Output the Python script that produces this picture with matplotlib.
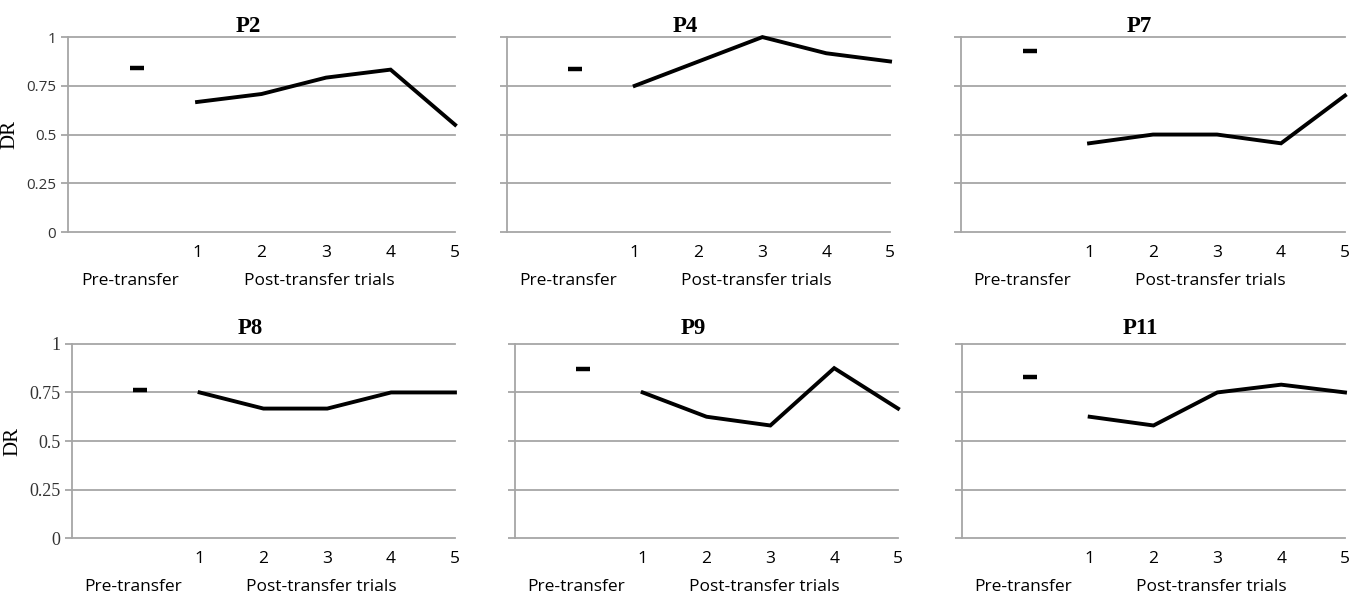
import matplotlib
matplotlib.use('Agg')
import matplotlib.pyplot as plt
from matplotlib.transforms import blended_transform_factory

# DR values
participants = ['P2', 'P4', 'P7', 'P8', 'P9', 'P11']
pre_transfer = [0.84, 0.835, 0.93, 0.765, 0.87, 0.83]
post_p2 = [0.667, 0.708, 0.792, 0.833, 0.55]
post_p4 = [0.75, 0.875, 1.0, 0.917, 0.875]
post_p7 = [0.455, 0.5, 0.5, 0.455, 0.70]
post_p8 = [0.75, 0.667, 0.667, 0.75, 0.75]
post_p9 = [0.75, 0.625, 0.58, 0.875, 0.667]
post_p11 = [0.625, 0.58, 0.75, 0.79, 0.75]
post_values = [post_p2, post_p4, post_p7, post_p8, post_p9, post_p11]

trials = [1, 2, 3, 4, 5]
PRE_X = 0.07
y_ticks = [0, 0.25, 0.5, 0.75, 1]
y_tick_labels = ['0', '0.25', '0.5', '0.75', '1']

GRID = '#a6a6a6'
SANS = 'Open Sans'
SERIF = 'Liberation Serif'

# [left, bottom, width, height] in figure fraction
positions = [
    [0.0504, 0.612, 0.2867, 0.326],
    [0.3756, 0.612, 0.2837, 0.326],
    [0.7119, 0.612, 0.2844, 0.326],
    [0.0533, 0.100, 0.2837, 0.325],
    [0.3815, 0.100, 0.2837, 0.325],
    [0.7126, 0.100, 0.2837, 0.325],
]

fig = plt.figure(figsize=(13.5, 5.98), dpi=100)

for i, name in enumerate(participants):
    ax = fig.add_axes(positions[i])
    ax.set_xlim(-1, 5)
    ax.set_ylim(0, 1)

    for s in ['top', 'right', 'bottom']:
        ax.spines[s].set_visible(False)
    ax.spines['left'].set_color(GRID)
    ax.spines['left'].set_linewidth(1.3)

    ax.set_yticks(y_ticks)
    ax.yaxis.grid(True, color=GRID, linewidth=1.3)
    for gl in ax.get_ygridlines():
        gl.set_clip_on(False)
    ax.tick_params(axis='y', direction='out', length=5, width=1.3, color=GRID)
    if i % 3 == 0:
        if i == 0:
            ax.set_yticklabels(y_tick_labels, fontsize=11, family=SANS,
                               color='#333333')
        else:
            ax.set_yticklabels(y_tick_labels, fontsize=13, family=SERIF,
                               color='#333333')
        ax.set_ylabel('DR', family=SERIF, fontsize=15, labelpad=5)
    else:
        ax.set_yticklabels([])

    ax.set_xticks(trials)
    ax.set_xticklabels([str(t) for t in trials], family=SANS, fontsize=12.5)
    ax.tick_params(axis='x', length=0, pad=9)

    trans = blended_transform_factory(ax.transData, ax.transAxes)
    ax.text(-0.04, -0.25, 'Pre-transfer', transform=trans, ha='center',
            va='center', family=SANS, fontsize=12.5)
    ax.text(2.9, -0.25, 'Post-transfer trials', transform=trans, ha='center',
            va='center', family=SANS, fontsize=12.5)

    ax.plot(trials, post_values[i], color='black', linewidth=2.8,
            clip_on=False, solid_joinstyle='miter')
    ax.plot([PRE_X], [pre_transfer[i]], marker='_', markersize=10,
            markeredgewidth=3.2, color='black', clip_on=False)

    ax.set_title(name, family=SERIF, fontweight='bold', fontsize=16.5,
                 x=0.465, pad=4 if i < 3 else 7)

fig.savefig('out.png', dpi=100, facecolor='white')
